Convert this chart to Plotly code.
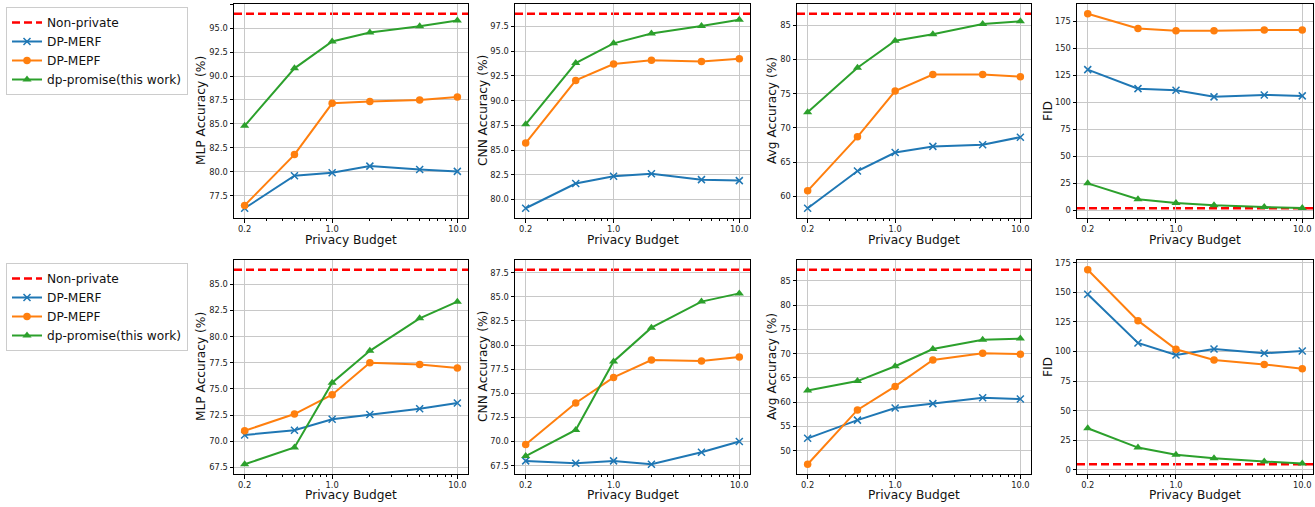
import math
import plotly.graph_objects as go

# ---------------- data ----------------
BUDGETS = [0.2, 0.5, 1, 2, 5, 10]
X_TICKS = [0.2, 1, 10]
X_TICK_TEXT = ["0.2", "1.0", "10.0"]
MINOR_TICKS = [0.3, 0.4, 0.5, 0.6, 0.7, 0.8, 0.9, 2, 3, 4, 5, 6, 7, 8, 9]

NONPRIV_NAME = "Non-private"
SERIES_NAMES = ["DP-MERF", "DP-MEPF", "dp-promise(this work)"]
Y_TITLES = ["MLP Accuracy (%)", "CNN Accuracy (%)", "Avg Accuracy (%)", "FID"]
X_TITLE = "Privacy Budget"

# Row 1
R1_MLP_NONPRIV = 96.5
R1_MLP_MERF = [76.2, 79.6, 79.9, 80.6, 80.25, 80.05]
R1_MLP_MEPF = [76.5, 81.8, 87.15, 87.35, 87.5, 87.8]
R1_MLP_PROMISE = [84.8, 90.8, 93.6, 94.55, 95.2, 95.8]

R1_CNN_NONPRIV = 98.8
R1_CNN_MERF = [79.1, 81.6, 82.35, 82.6, 82.0, 81.9]
R1_CNN_MEPF = [85.7, 92.05, 93.7, 94.1, 93.95, 94.25]
R1_CNN_PROMISE = [87.6, 93.8, 95.8, 96.8, 97.55, 98.2]

R1_AVG_NONPRIV = 86.7
R1_AVG_MERF = [58.25, 63.7, 66.4, 67.3, 67.55, 68.65]
R1_AVG_MEPF = [60.8, 68.7, 75.4, 77.8, 77.8, 77.5]
R1_AVG_PROMISE = [72.3, 78.8, 82.75, 83.7, 85.2, 85.6]

R1_FID_NONPRIV = 1.6
R1_FID_MERF = [130.0, 112.4, 110.9, 104.8, 106.6, 105.7]
R1_FID_MEPF = [181.8, 168.2, 166.0, 166.0, 166.8, 166.8]
R1_FID_PROMISE = [24.7, 9.9, 6.5, 4.3, 2.8, 1.8]

# Row 2
R2_MLP_NONPRIV = 86.4
R2_MLP_MERF = [70.6, 71.05, 72.1, 72.55, 73.1, 73.65]
R2_MLP_MEPF = [71.0, 72.6, 74.45, 77.5, 77.35, 77.0]
R2_MLP_PROMISE = [67.8, 69.4, 75.6, 78.65, 81.75, 83.35]

R2_CNN_NONPRIV = 87.8
R2_CNN_MERF = [68.0, 67.75, 68.0, 67.65, 68.9, 70.0]
R2_CNN_MEPF = [69.7, 74.0, 76.65, 78.45, 78.35, 78.75]
R2_CNN_PROMISE = [68.5, 71.2, 78.3, 81.8, 84.5, 85.35]

R2_AVG_NONPRIV = 87.3
R2_AVG_MERF = [52.55, 56.3, 58.8, 59.7, 60.9, 60.65]
R2_AVG_MEPF = [47.2, 58.4, 63.25, 68.7, 70.1, 69.9]
R2_AVG_PROMISE = [62.4, 64.35, 67.4, 70.95, 72.85, 73.1]

R2_FID_NONPRIV = 4.8
R2_FID_MERF = [148.3, 107.2, 97.1, 102.1, 98.5, 100.4]
R2_FID_MEPF = [169.0, 126.0, 101.9, 92.9, 89.1, 85.4]
R2_FID_PROMISE = [35.2, 18.9, 12.9, 9.9, 7.1, 5.4]

PANELS = [
    [(R1_MLP_NONPRIV, R1_MLP_MERF, R1_MLP_MEPF, R1_MLP_PROMISE),
     (R1_CNN_NONPRIV, R1_CNN_MERF, R1_CNN_MEPF, R1_CNN_PROMISE),
     (R1_AVG_NONPRIV, R1_AVG_MERF, R1_AVG_MEPF, R1_AVG_PROMISE),
     (R1_FID_NONPRIV, R1_FID_MERF, R1_FID_MEPF, R1_FID_PROMISE)],
    [(R2_MLP_NONPRIV, R2_MLP_MERF, R2_MLP_MEPF, R2_MLP_PROMISE),
     (R2_CNN_NONPRIV, R2_CNN_MERF, R2_CNN_MEPF, R2_CNN_PROMISE),
     (R2_AVG_NONPRIV, R2_AVG_MERF, R2_AVG_MEPF, R2_AVG_PROMISE),
     (R2_FID_NONPRIV, R2_FID_MERF, R2_FID_MEPF, R2_FID_PROMISE)],
]
Y_DTICKS = [2.5, 2.5, 5, 25]

# ---------------- style ----------------
W, H = 1315, 507
FONT = "DejaVu Sans"
COLORS = ["#1f77b4", "#ff7f0e", "#2ca02c"]
SYMBOLS = ["x-thin", "circle", "triangle-up"]
MSIZES = [7, 7.5, 8]
NONPRIV_COLOR = "#ff0000"
NONPRIV_DASH = "8px,4px"
COL_PX = [(234, 468), (515, 750), (797, 1031), (1077, 1313)]
ROW_PX = [(4, 218), (260, 474)]
YTITLE_X = [201, 483, 772, 1048]
XTITLE_Y = [240, 495]
LEGEND_TOP = [7, 263]
TICK_FONT = dict(family=FONT, size=8.3, color="#222222")
LABEL_FONT = dict(family=FONT, size=12.2, color="#111111")

fig = go.Figure()
layout = dict(
    width=W, height=H, margin=dict(l=0, r=0, t=0, b=0),
    paper_bgcolor="white", plot_bgcolor="white",
    font=dict(family=FONT), showlegend=True,
)
annotations = []
shapes = []

lx0 = math.log10(min(BUDGETS))
lx1 = math.log10(max(BUDGETS))
xpad = 0.05 * (lx1 - lx0)
xrange = [lx0 - xpad, lx1 + xpad]

for r in range(2):
    legend_name = "legend" if r == 0 else "legend2"
    for c in range(4):
        k = r * 4 + c + 1
        xa = "x" if k == 1 else f"x{k}"
        ya = "y" if k == 1 else f"y{k}"
        xkey = "xaxis" if k == 1 else f"xaxis{k}"
        ykey = "yaxis" if k == 1 else f"yaxis{k}"
        nonpriv, merf, mepf, promise = PANELS[r][c]
        allv = [nonpriv] + merf + mepf + promise
        lo, hi = min(allv), max(allv)
        pad = 0.05 * (hi - lo)
        dt = Y_DTICKS[c]

        layout[xkey] = dict(
            type="log", range=xrange, anchor=ya,
            domain=[COL_PX[c][0] / W, COL_PX[c][1] / W],
            tickmode="array", tickvals=X_TICKS, ticktext=X_TICK_TEXT,
            showgrid=True, gridcolor="#c8c8c8", gridwidth=1,
            showline=True, mirror=True, linecolor="black", linewidth=1,
            ticks="outside", ticklen=3.5, tickwidth=1, tickcolor="black",
            tickfont=TICK_FONT, zeroline=False, automargin=False,
            minor=dict(tickmode="array", tickvals=MINOR_TICKS, ticks="outside",
                       ticklen=2, tickwidth=0.8, tickcolor="black", showgrid=False),
        )
        layout[ykey] = dict(
            range=[lo - pad, hi + pad], anchor=xa,
            domain=[1 - ROW_PX[r][1] / H, 1 - ROW_PX[r][0] / H],
            tick0=0, dtick=dt, tickformat=".1f" if dt == 2.5 else "d",
            showgrid=True, gridcolor="#c8c8c8", gridwidth=1,
            showline=True, mirror=True, linecolor="black", linewidth=1,
            ticks="outside", ticklen=3.5, tickwidth=1, tickcolor="black",
            tickfont=TICK_FONT, zeroline=False, automargin=False,
        )

        # Non-private reference line spanning the whole panel
        shapes.append(dict(
            type="line", xref=f"{xa} domain", x0=0, x1=1, yref=ya,
            y0=nonpriv, y1=nonpriv, layer="below",
            line=dict(color=NONPRIV_COLOR, width=2.5, dash=NONPRIV_DASH),
        ))
        if c == 0:
            # legend entry for the reference line
            fig.add_trace(go.Scatter(
                x=[None], y=[None], mode="lines", name=NONPRIV_NAME,
                line=dict(color=NONPRIV_COLOR, width=2.5, dash=NONPRIV_DASH),
                xaxis=xa, yaxis=ya, showlegend=True, legend=legend_name,
                hoverinfo="skip",
            ))

        for i, vals in enumerate([merf, mepf, promise]):
            marker = dict(symbol=SYMBOLS[i], size=MSIZES[i], color=COLORS[i])
            if SYMBOLS[i] == "x-thin":
                marker["line"] = dict(color=COLORS[i], width=1.5)
            fig.add_trace(go.Scatter(
                x=BUDGETS, y=vals, mode="lines+markers", name=SERIES_NAMES[i],
                line=dict(color=COLORS[i], width=2), marker=marker,
                xaxis=xa, yaxis=ya, showlegend=(c == 0), legend=legend_name,
                hoverinfo="skip",
            ))

        # axis titles
        annotations.append(dict(
            text=X_TITLE, xref="paper", yref="paper",
            x=(COL_PX[c][0] + COL_PX[c][1]) / 2 / W, y=1 - XTITLE_Y[r] / H,
            xanchor="center", yanchor="middle", showarrow=False, font=LABEL_FONT,
        ))
        annotations.append(dict(
            text=Y_TITLES[c], xref="paper", yref="paper", textangle=-90,
            x=YTITLE_X[c] / W, y=1 - (ROW_PX[r][0] + ROW_PX[r][1]) / 2 / H,
            xanchor="center", yanchor="middle", showarrow=False, font=LABEL_FONT,
        ))

for r, lname in enumerate(["legend", "legend2"]):
    layout[lname] = dict(
        x=6 / W, y=1 - LEGEND_TOP[r] / H, xanchor="left", yanchor="top",
        bgcolor="white", bordercolor="#cccccc", borderwidth=1,
        font=dict(family=FONT, size=12.2, color="#111111"),
        traceorder="normal", itemwidth=30, tracegroupgap=0,
    )

layout["annotations"] = annotations
layout["shapes"] = shapes
fig.update_layout(**layout)
fig.write_html("out.html", config={"displayModeBar": False})

# remove the default page margin so the figure sits at the window origin
with open("out.html", "r", encoding="utf-8") as f:
    html = f.read()
html = html.replace("<body>", '<body style="margin:0;padding:0;">', 1)
with open("out.html", "w", encoding="utf-8") as f:
    f.write(html)
